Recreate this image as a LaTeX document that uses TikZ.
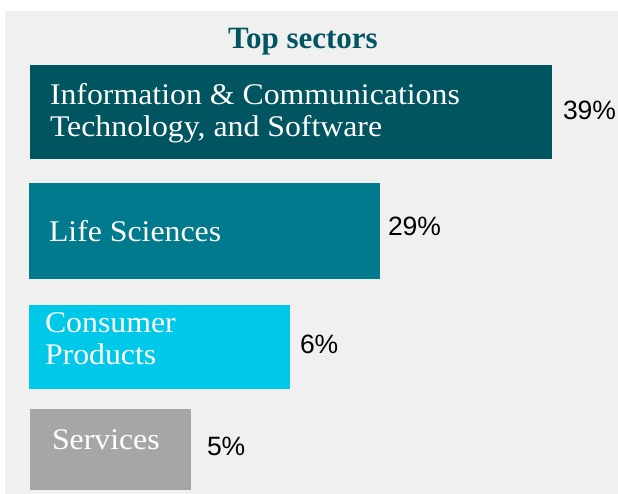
\documentclass[tikz,border=0pt]{standalone}
\usepackage{fontspec}
\setmainfont{Liberation Serif}
\newfontfamily\labelfont[FakeStretch=1.06]{Liberation Serif}
\newfontfamily\pctfont{Liberation Sans}
\definecolor{panelgray}{HTML}{F0F0F0}
\definecolor{ictteal}{HTML}{005560}
\definecolor{lifeteal}{HTML}{007A8C}
\definecolor{consumercyan}{HTML}{00C8E8}
\definecolor{servicesgray}{HTML}{A6A6A6}
\begin{document}
\begin{tikzpicture}
  [
    x                 = 1pt,
    y                 = -1pt,
    every node/.style = {inner sep=0pt, outer sep=0pt},
    sector/.style     = {anchor=base west, align=left, text=white,
                         font=\labelfont\fontsize{30}{32}\selectfont},
    share/.style      = {anchor=base west, text=black,
                         font=\pctfont\fontsize{26.5}{28}\selectfont},
    heading/.style    = {anchor=base, text=ictteal,
                         font=\bfseries\fontsize{31}{33}\selectfont}
  ]
  \useasboundingbox (0,0) rectangle (618,494);
  \fill[white] (0,0) rectangle (618,494);
  \fill[panelgray] (5,11) rectangle (618,494);
  \node[heading] (title) at (303,49) {Top sectors};
  % bars
  \fill[ictteal]      (30,65)  rectangle (552,159);
  \fill[lifeteal]     (29,183) rectangle (380,279);
  \fill[consumercyan] (29,305) rectangle (290,389);
  \fill[servicesgray] (30,409) rectangle (191,490);
  % sector names (base = last line)
  \node[sector] (ict)      at (50,137)  {Information \& Communications\\Technology, and Software};
  \node[sector] (life)     at (49,242)  {Life Sciences};
  \node[sector] (consumer) at (45,364)  {Consumer\\Products};
  \node[sector] (services) at (52,449)  {Services};
  % shares
  \node[share] (ictshare)      at (563,120) {39\%};
  \node[share] (lifeshare)     at (388,236) {29\%};
  \node[share] (consumershare) at (300,353) {6\%};
  \node[share] (servicesshare) at (207,455) {5\%};
\end{tikzpicture}
\end{document}
